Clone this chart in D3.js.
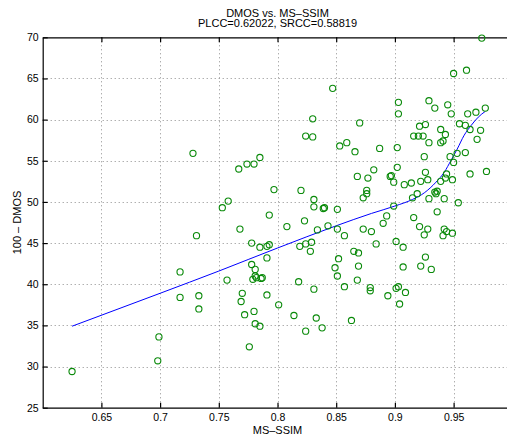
<!DOCTYPE html>
<html>
<head>
<meta charset="utf-8">
<script src="https://cdn.jsdelivr.net/npm/d3@7"></script>
<style>
    body { margin: 0; background: white; overflow: hidden; }
    text { font-family: "Liberation Sans", Arial, Helvetica, sans-serif; fill: black; }
</style>
</head>
<body>
<div id="chart"></div>
<script>
// MS-SSIM score of each image
const msssim = [
    0.728, 0.767, 0.774, 0.780, 0.785, 0.797, 0.758, 0.753, 0.793,
    0.768, 0.731, 0.778, 0.785, 0.791, 0.793, 0.791, 0.778, 0.781, 0.781, 0.779,
    0.782, 0.786, 0.787, 0.757, 0.717, 0.717, 0.733, 0.733, 0.770, 0.769,
    0.791, 0.801, 0.772, 0.780, 0.781, 0.785, 0.776, 0.699, 0.698, 0.625,
    0.974, 0.961, 0.950, 0.847, 0.929, 0.903, 0.903, 0.934, 0.945, 0.948,
    0.962, 0.969, 0.977, 0.830, 0.870, 0.824, 0.830, 0.853, 0.859, 0.866,
    0.887, 0.902, 0.921, 0.926, 0.916, 0.920, 0.924, 0.929, 0.939, 0.943,
    0.941, 0.939, 0.955, 0.960, 0.964, 0.973, 0.970, 0.960, 0.953, 0.947,
    0.950, 0.925, 0.882, 0.902, 0.868, 0.877, 0.896, 0.897, 0.899, 0.908,
    0.914, 0.922, 0.926, 0.928, 0.939, 0.943, 0.944, 0.949, 0.964, 0.978,
    0.820, 0.876, 0.876, 0.873, 0.831, 0.831, 0.839, 0.840, 0.851, 0.823,
    0.915, 0.919, 0.929, 0.934, 0.936, 0.935, 0.942, 0.954, 0.936, 0.916,
    0.899, 0.893,
    0.808, 0.834, 0.843, 0.851, 0.857, 0.819, 0.824, 0.829, 0.828, 0.873,
    0.880, 0.890, 0.884, 0.921, 0.928, 0.925, 0.942, 0.944, 0.941, 0.949,
    0.901, 0.907, 0.865, 0.869, 0.852, 0.849, 0.869, 0.851, 0.868, 0.857,
    0.879, 0.879, 0.894, 0.901, 0.903, 0.909, 0.904, 0.907, 0.922, 0.931,
    0.926, 0.818, 0.831, 0.814, 0.833, 0.824, 0.838, 0.863
];

// 100 - DMOS of the same images
const dmos = [
    55.9, 54.0, 54.6, 54.6, 55.4, 51.5, 50.1, 49.3, 48.4,
    46.7, 45.9, 45.0, 44.5, 44.6, 44.8, 43.2, 42.4, 41.8, 41.0, 40.6,
    40.8, 40.7, 40.8, 40.5, 41.5, 38.4, 38.6, 37.0, 38.9, 37.9,
    38.7, 37.5, 36.3, 36.7, 35.2, 34.9, 32.4, 33.6, 30.7, 29.4,
    69.9, 66.0, 65.6, 63.8, 62.3, 62.1, 60.7, 61.4, 61.8, 60.7,
    60.7, 60.9, 61.4, 60.1, 59.6, 58.0, 57.9, 56.8, 57.2, 56.1,
    56.5, 56.6, 59.2, 59.4, 58.0, 58.0, 58.0, 57.2, 58.8, 58.2,
    57.4, 57.2, 59.5, 59.3, 58.8, 58.7, 57.6, 56.0, 55.9, 55.5,
    54.8, 55.5, 53.9, 54.2, 53.1, 52.9, 53.1, 53.2, 52.4, 52.1,
    52.3, 52.5, 53.6, 52.7, 52.5, 52.9, 53.4, 52.7, 53.4, 53.7,
    51.4, 51.4, 51.0, 50.5, 50.3, 49.4, 49.2, 49.3, 49.1, 47.7,
    50.5, 51.0, 50.4, 51.2, 51.3, 51.0, 50.4, 49.9, 48.8, 48.1,
    49.5, 48.3,
    47.0, 46.6, 47.1, 46.7, 45.9, 44.6, 44.9, 45.1, 44.0, 46.7,
    46.4, 47.4, 44.9, 47.0, 46.7, 46.0, 46.7, 46.4, 45.9, 46.2,
    45.2, 44.5, 44.0, 43.8, 43.1, 42.0, 42.2, 41.0, 40.5, 39.7,
    39.6, 39.2, 38.6, 39.5, 39.7, 39.0, 37.6, 42.1, 42.2, 41.8,
    43.3, 40.3, 39.4, 36.2, 35.9, 34.3, 34.7, 35.6
];

// fitted curve
const fitX = [0.625, 0.70, 0.75, 0.80, 0.85, 0.88, 0.90, 0.915, 0.925, 0.935, 0.942, 0.948, 0.953, 0.959, 0.965, 0.971, 0.977];
const fitY = [34.9, 38.9, 41.6, 44.4, 47.1, 48.6, 49.5, 50.3, 51.1, 52.4, 53.6, 55.1, 56.4, 58.1, 59.3, 60.3, 61.0];

const xTicks = [0.65, 0.7, 0.75, 0.8, 0.85, 0.9, 0.95];
const yTicks = [25, 30, 35, 40, 45, 50, 55, 60, 65, 70];

const
    width = 507,
    height = 439,
    plotLeft = 42.7,
    plotRight = 512.3,
    plotTop = 37.3,
    plotBottom = 407.7;

var svg = d3
    .select("#chart")
    .append("svg")
    .attr("width", width)
    .attr("height", height)

var xscale = d3
    .scaleLinear()
    .domain([0.6, 1.0])
    .range([plotLeft, plotRight]);

var yscale = d3
    .scaleLinear()
    .domain([25, 70])
    .range([plotBottom, plotTop]);

// dotted grid
svg.append("g")
    .selectAll("line")
    .data(xTicks)
    .enter()
    .append("line")
    .attr("x1", d => Math.round(xscale(d)) + .5).attr("x2", d => Math.round(xscale(d)) + .5)
    .attr("y1", plotTop).attr("y2", plotBottom)
    .style("stroke", "#8c8c8c")
    .style("stroke-width", 1)
    .style("stroke-dasharray", "1 3")

svg.append("g")
    .selectAll("line")
    .data(yTicks.slice(1, -1))
    .enter()
    .append("line")
    .attr("y1", d => Math.round(yscale(d)) + .5).attr("y2", d => Math.round(yscale(d)) + .5)
    .attr("x1", plotLeft).attr("x2", plotRight)
    .style("stroke", "#8c8c8c")
    .style("stroke-width", 1)
    .style("stroke-dasharray", "1 3")

// axes (ticks point inside, as in the original)
var xaxis = svg
    .append("g")
    .attr("transform", `translate(0, ${plotBottom})`)
    .call(d3.axisBottom(xscale).tickValues(xTicks).tickSizeInner(-5).tickSizeOuter(0).tickPadding(5.5)
        .tickFormat(d3.format("")))

var xaxisTop = svg
    .append("g")
    .attr("transform", `translate(0, ${plotTop})`)
    .call(d3.axisTop(xscale).tickValues(xTicks).tickSizeInner(-5).tickSizeOuter(0).tickFormat(""))

var yaxis = svg
    .append("g")
    .attr("transform", `translate(${plotLeft}, 0)`)
    .call(d3.axisLeft(yscale).tickValues(yTicks).tickSizeInner(-5).tickSizeOuter(0).tickPadding(4))

svg.selectAll(".domain, .tick line")
    .style("stroke", "black")
    .style("stroke-width", 1.2)

svg.selectAll(".tick text")
    .style("font-size", "10.5px")
    .style("font-family", "'Liberation Sans', Arial, sans-serif")

// fitted curve
var line = d3.line()
    .x(d => xscale(d[0]))
    .y(d => yscale(d[1]))
    .curve(d3.curveMonotoneX);

svg.append("path")
    .datum(fitX.map((x, i) => [x, fitY[i]]))
    .attr("d", line)
    .style("fill", "none")
    .style("stroke", "blue")
    .style("stroke-width", 1)

// scatter
svg.append("g")
    .selectAll("circle")
    .data(msssim.map((x, i) => [x, dmos[i]]))
    .enter()
    .append("circle")
    .attr("cx", d => xscale(d[0]))
    .attr("cy", d => yscale(d[1]))
    .attr("r", 3.1)
    .style("fill", "none")
    .style("stroke", "#0a8a0a")
    .style("stroke-width", 1.1)

// titles and labels
svg.append("text")
    .attr("x", xscale(0.8))
    .attr("y", 16.5)
    .style("text-anchor", "middle")
    .style("font-size", "11px")
    .text("DMOS vs. MS\u2013SSIM")

svg.append("text")
    .attr("x", xscale(0.8))
    .attr("y", 27.3)
    .style("text-anchor", "middle")
    .style("font-size", "11px")
    .text("PLCC=0.62022, SRCC=0.58819")

svg.append("text")
    .attr("x", xscale(0.8))
    .attr("y", 433.5)
    .style("text-anchor", "middle")
    .style("font-size", "11px")
    .text("MS\u2013SSIM")

svg.append("text")
    .attr("transform", `translate(20.5, ${(plotTop + plotBottom) / 2}) rotate(-90)`)
    .style("text-anchor", "middle")
    .style("font-size", "11px")
    .text("100 \u2013 DMOS")
</script>
</body>
</html>
